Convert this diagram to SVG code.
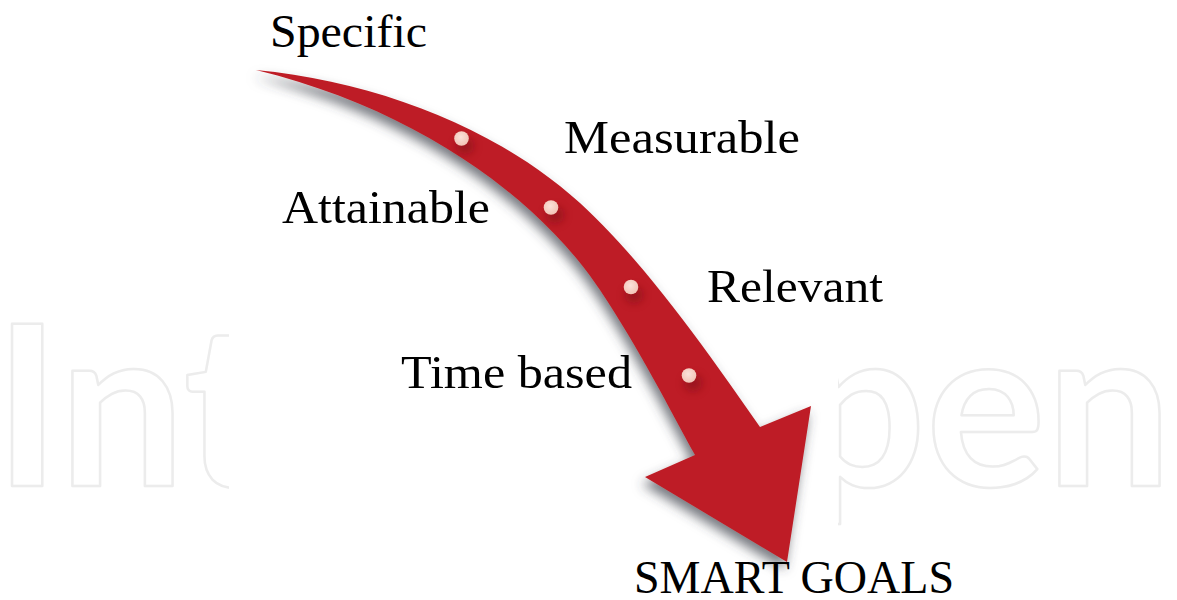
<svg xmlns="http://www.w3.org/2000/svg" width="1177" height="600" viewBox="0 0 1177 600">
<style>
.lbl{font-family:"Liberation Serif","Times New Roman",serif;font-size:47px;fill:#000}
.wm{font-family:Lato,"Open Sans",sans-serif;font-size:224px;font-weight:700;fill:#fff;stroke:#ececec;stroke-width:2.5;stroke-linejoin:round}
.dot{fill:url(#dotg)}
.dsh{fill:#7a0e12;opacity:0.55;filter:url(#blur)}
</style>
<defs>
<filter id="shadow" x="-20%" y="-20%" width="140%" height="140%">
<feDropShadow dx="-3" dy="7" stdDeviation="6" flood-color="#3a3f4a" flood-opacity="0.7"/>
</filter>
<filter id="blur" x="-100%" y="-100%" width="300%" height="300%">
<feGaussianBlur stdDeviation="4"/>
</filter>
<radialGradient id="dotg" cx="0.45" cy="0.4" r="0.6">
<stop offset="0" stop-color="#fbe2da"/>
<stop offset="1" stop-color="#f2c3b6"/>
</radialGradient>
<clipPath id="wmclip">
<rect x="0" y="0" width="229" height="600"/>
<rect x="838" y="0" width="339" height="600"/>
</clipPath>
</defs>
<rect width="1177" height="600" fill="#fff"/>
<g id="watermark" clip-path="url(#wmclip)">
<text class="wm" x="-6" y="486">Int</text>
<text class="wm" x="1172" y="486" text-anchor="end">pen</text>
</g>
<g id="connectors">
<path id="arrow" filter="url(#shadow)" fill="#be1e25" d="M256,70 C380,82 500,130 580,203 C640,258 700,340 760,427 L811,406 L787,562 L645,477 L695,455 C670,410 640,350 600,290 C540,200 420,110 256,70 Z"/>
</g>
<g id="dots">
<ellipse class="dsh" cx="465" cy="146" rx="9" ry="8"/>
<ellipse class="dsh" cx="555" cy="215" rx="9" ry="8"/>
<ellipse class="dsh" cx="634" cy="295" rx="9" ry="8"/>
<ellipse class="dsh" cx="693" cy="383" rx="9" ry="8"/>
<circle class="dot" cx="461.5" cy="138.5" r="7.3"/>
<circle class="dot" cx="551" cy="207.5" r="7.3"/>
<circle class="dot" cx="631" cy="287" r="7.3"/>
<circle class="dot" cx="689" cy="375.5" r="7.3"/>
</g>
<g id="specific"><text class="lbl" x="270" y="47" textLength="157" lengthAdjust="spacingAndGlyphs">Specific</text></g>
<g id="measurable"><text class="lbl" x="564" y="153" textLength="236" lengthAdjust="spacingAndGlyphs">Measurable</text></g>
<g id="attainable"><text class="lbl" x="282" y="223" textLength="208" lengthAdjust="spacingAndGlyphs">Attainable</text></g>
<g id="relevant"><text class="lbl" x="707" y="302" textLength="176" lengthAdjust="spacingAndGlyphs">Relevant</text></g>
<g id="timebased"><text class="lbl" x="401" y="388" textLength="231" lengthAdjust="spacingAndGlyphs">Time based</text></g>
<g id="smartgoals"><text class="lbl" x="634" y="593" textLength="320" lengthAdjust="spacingAndGlyphs">SMART GOALS</text></g>
</svg>
